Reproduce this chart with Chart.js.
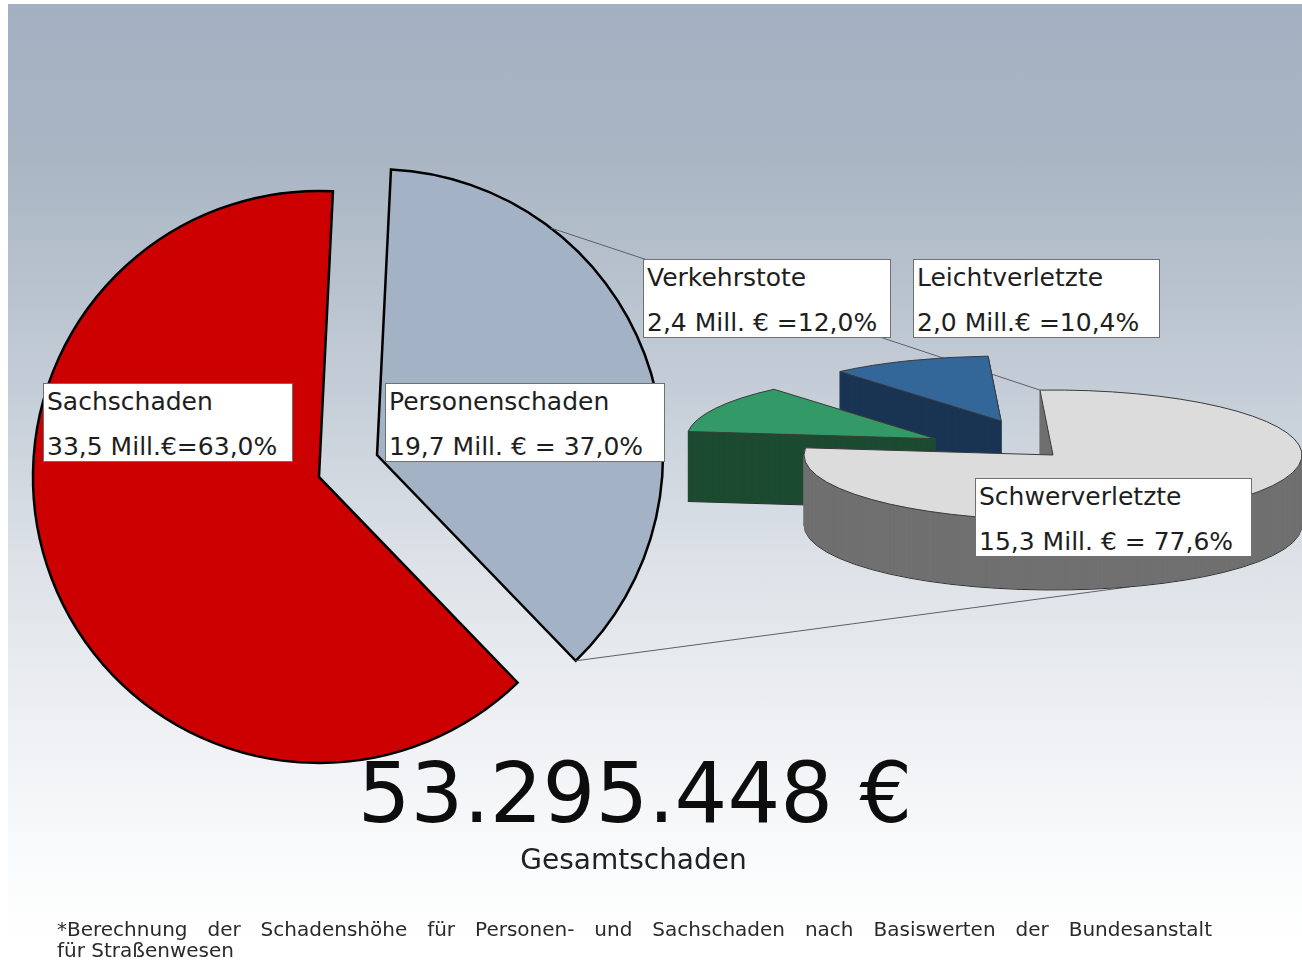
<!DOCTYPE html>
<html>
<head>
<meta charset="utf-8">
<script src="https://cdn.jsdelivr.net/npm/chart.js@4.4.1/dist/chart.umd.min.js"></script>
<style>
html,body{margin:0;padding:0;background:#fff;}
#page{position:relative;width:1302px;height:963px;overflow:hidden;background:#fff;font-family:"DejaVu Sans",Verdana,sans-serif;}
#bg{position:absolute;left:8px;top:4px;right:0;bottom:0;
  background:linear-gradient(to bottom,#a2b0c1 0px,#a9b5c3 150px,#c4cdd7 380px,#dde2e8 560px,#eef0f3 720px,#fafbfc 860px,#ffffff 940px);}
#leftPie{position:absolute;left:-2px;top:150px;}
#rightPie{position:absolute;left:0;top:0;}
.lbl{position:absolute;background:#fff;border:1px solid #707070;box-sizing:border-box;display:flex;flex-direction:column;justify-content:space-between;
  padding:5px 2px 2px 3px;color:#1e1e1e;font-size:25px;line-height:25px;white-space:nowrap;z-index:5;}
.txt{position:absolute;white-space:nowrap;color:#0d0d0d;line-height:1;z-index:5;}
</style>
</head>
<body>
<div id="page">
  <div id="bg"></div>
  <canvas id="leftPie" width="700" height="630"></canvas>
  <canvas id="rightPie" width="1302" height="963"></canvas>
  <div id="labels"></div>
  <div class="txt" id="total" style="left:0;width:1270px;text-align:center;top:752px;font-size:83px;"></div>
  <div class="txt" id="totalCaption" style="left:0;width:1267px;text-align:center;top:846px;font-size:28px;color:#222;"></div>
  <div class="txt" id="note1" style="left:57px;width:1155px;top:919px;font-size:20px;color:#2a2a2a;white-space:normal;text-align:justify;text-align-last:justify;"></div>
  <div class="txt" id="note2" style="left:57px;top:940px;font-size:20px;color:#2a2a2a;"></div>
</div>
<script>
// ---------- data ----------
const mainLabels   = ['Sachschaden', 'Personenschaden'];
const mainAmounts  = [33.5, 19.7];          // Mill. €
const mainPercents = [63.0, 37.0];          // %
const subLabels    = ['Schwerverletzte', 'Verkehrstote', 'Leichtverletzte'];
const subAmounts   = [15.3, 2.4, 2.0];      // Mill. €
const subPercents  = [77.6, 12.0, 10.4];    // %
const totalDamage  = 53295448;              // €
const totalCaption = 'Gesamtschaden';
const footnoteLines = ['*Berechnung der Schadenshöhe für Personen- und Sachschaden nach Basiswerten der Bundesanstalt', 'für Straßenwesen'];

// ---------- label text formats (as printed) ----------
const mainFormat = [['Mill.€', '='], ['Mill. €', ' = ']];
const subFormat  = [['Mill. €', ' = '], ['Mill. €', ' ='], ['Mill.€', ' =']];

// ---------- layout / style ----------
const boxLayout = {
  'Sachschaden':     [43, 383, 250, 79],
  'Personenschaden': [385, 383, 280, 79],
  'Verkehrstote':    [643, 259, 248, 79],
  'Leichtverletzte': [913, 259, 247, 79],
  'Schwerverletzte': [975, 478, 277, 79]
};
const LEFT_CANVAS = {x: -2, y: 150};
const mainColors = ['#cc0000', '#a3b2c4'];
const subColors  = ['#dcdcdc', '#339966', '#336699'];
const subSides   = ['#707070', '#1c4b31', '#1a3453'];

const de = (v) => v.toFixed(1).replace('.', ',');
const thousands = (n) => String(n).replace(/\B(?=(\d{3})+(?!\d))/g, '.');

// ---------- plugin: exploded / extruded pie drawn from the library's arc elements ----------
const explode3d = {
  id: 'explode3d',
  beforeDatasetsDraw(chart, args, opts) {
    const ctx = chart.ctx;
    const meta = chart.getDatasetMeta(0);
    const dist = opts.distances || [];
    const squash = opts.squash || 1;
    const depth = opts.depth || 0;
    const sides = opts.sideColors || [];
    const order = opts.order || meta.data.map((_, i) => i);
    const dpr = chart.currentDevicePixelRatio || 1;

    if (opts.connectors) opts.connectors(chart, ctx);

    const drawAt = (el, i, shift, bg, bc, bw) => {
      const mid = (el.startAngle + el.endAngle) / 2;
      const d = dist[i] || 0;
      ctx.save();
      ctx.translate(0, shift);
      ctx.translate(el.x, el.y);
      ctx.scale(1, squash);
      ctx.translate(-el.x, -el.y);
      ctx.translate(Math.cos(mid) * d, Math.sin(mid) * d);
      const g = Object.create(el);
      g.options = Object.assign({}, el.options, {backgroundColor: bg, borderColor: bc, borderWidth: bw, offset: 0, spacing: 0});
      const orig = ctx.stroke;
      ctx.stroke = function () { this.save(); this.setTransform(dpr, 0, 0, dpr, 0, 0); orig.apply(this, arguments); this.restore(); };
      g.draw(ctx);
      delete ctx.stroke;
      ctx.restore();
    };

    order.forEach(i => {
      const el = meta.data[i];
      for (let s = depth; s >= 1; s--) {
        drawAt(el, i, s, sides[i], s === depth ? '#303030' : sides[i], 1);
      }
      drawAt(el, i, 0, el.options.backgroundColor, el.options.borderColor, el.options.borderWidth);
    });
    return false;
  }
};

// ---------- left pie ----------
const LEFT_EXPLODE = 31;
const leftChart = new Chart(document.getElementById('leftPie'), {
  type: 'pie',
  data: {
    labels: mainLabels,
    datasets: [{
      data: mainPercents,
      backgroundColor: mainColors,
      borderColor: '#000000',
      borderWidth: 2.5,
      borderJoinStyle: 'miter'
    }]
  },
  options: {
    responsive: false, animation: false, events: [],
    rotation: 136, radius: 286,
    layout: {padding: {top: 2, bottom: 0}},
    plugins: {
      legend: {display: false}, tooltip: {enabled: false},
      explode3d: {distances: [LEFT_EXPLODE, LEFT_EXPLODE]}
    }
  },
  plugins: [explode3d]
});

// ---------- right (3D) pie ----------
const R_SQUASH = 0.261, R_DEPTH = 70;
const BOTTOM_ANCHOR_DEG = 162;   // where the lower connector meets the small pie (clockwise from top)
const drawConnectors = (chart, ctx) => {
  const lm = leftChart.getDatasetMeta(0).data[1];
  const lmid = (lm.startAngle + lm.endAngle) / 2;
  const lcx = LEFT_CANVAS.x + lm.x + Math.cos(lmid) * LEFT_EXPLODE;
  const lcy = LEFT_CANVAS.y + lm.y + Math.sin(lmid) * LEFT_EXPLODE;
  const lr = lm.outerRadius;
  const aUp = lm.startAngle + (lm.endAngle - lm.startAngle) * 0.26;
  const aLo = lm.endAngle;
  const g = chart.getDatasetMeta(0).data[0];
  const R = g.outerRadius;
  const topPt = [g.x + R * Math.cos(g.startAngle), g.y + R * Math.sin(g.startAngle) * R_SQUASH];
  const aB = (BOTTOM_ANCHOR_DEG - 90) * Math.PI / 180;
  const botPt = [g.x + R * Math.cos(aB), g.y + R * Math.sin(aB) * R_SQUASH + R_DEPTH];
  ctx.save();
  ctx.strokeStyle = '#5b6068';
  ctx.lineWidth = 1;
  ctx.beginPath();
  ctx.moveTo(lcx + lr * Math.cos(aUp), lcy + lr * Math.sin(aUp));
  ctx.lineTo(topPt[0], topPt[1]);
  ctx.moveTo(lcx + lr * Math.cos(aLo), lcy + lr * Math.sin(aLo));
  ctx.lineTo(botPt[0], botPt[1]);
  ctx.stroke();
  ctx.restore();
};

new Chart(document.getElementById('rightPie'), {
  type: 'pie',
  data: {
    labels: subLabels,
    datasets: [{
      data: subPercents,
      backgroundColor: subColors,
      borderColor: '#3a3a3a',
      borderWidth: 1,
      borderJoinStyle: 'miter'
    }]
  },
  options: {
    responsive: false, animation: false, events: [],
    rotation: -3, radius: 249,
    layout: {padding: {left: 804, right: 0, top: 0, bottom: 53}},
    plugins: {
      legend: {display: false}, tooltip: {enabled: false},
      explode3d: {
        distances: [0, 133, 140], squash: R_SQUASH, depth: R_DEPTH,
        sideColors: subSides, order: [2, 1, 0], connectors: drawConnectors
      }
    }
  },
  plugins: [explode3d]
});

// ---------- text ----------
const labelsDiv = document.getElementById('labels');
const addBox = (name, line2) => {
  const [x, y, w, h] = boxLayout[name];
  const b = document.createElement('div');
  b.className = 'lbl';
  b.style.left = x + 'px'; b.style.top = y + 'px';
  b.style.width = w + 'px'; b.style.height = h + 'px';
  const l1 = document.createElement('div'); l1.textContent = name;
  const l2 = document.createElement('div'); l2.textContent = line2;
  b.appendChild(l1); b.appendChild(l2);
  labelsDiv.appendChild(b);
};
mainLabels.forEach((n, i) => addBox(n, de(mainAmounts[i]) + ' ' + mainFormat[i][0] + mainFormat[i][1] + de(mainPercents[i]) + '%'));
subLabels.forEach((n, i) => addBox(n, de(subAmounts[i]) + ' ' + subFormat[i][0] + subFormat[i][1] + de(subPercents[i]) + '%'));
document.getElementById('total').textContent = thousands(totalDamage) + ' €';
document.getElementById('totalCaption').textContent = totalCaption;
document.getElementById('note1').textContent = footnoteLines[0];
document.getElementById('note2').textContent = footnoteLines[1];
</script>
</body>
</html>
